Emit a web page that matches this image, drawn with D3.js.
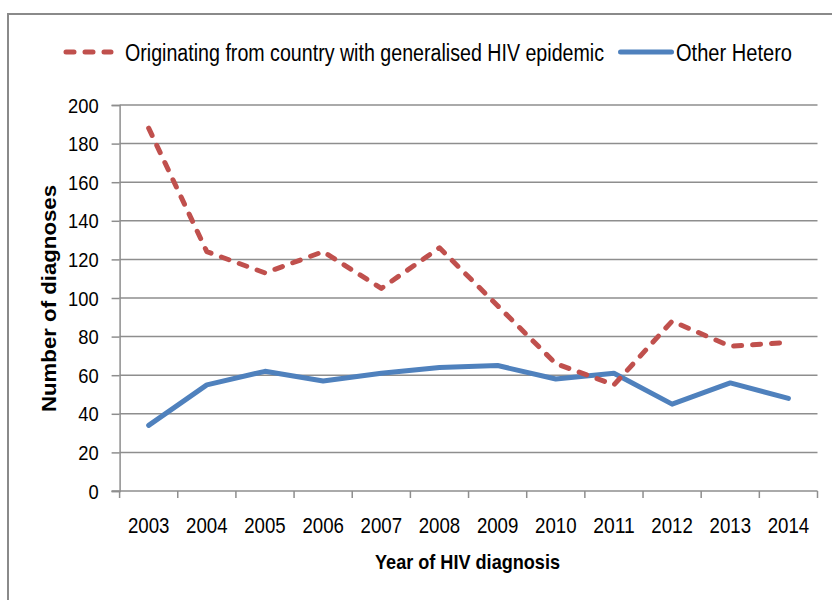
<!DOCTYPE html>
<html>
<head>
<meta charset="utf-8">
<script src="https://cdn.jsdelivr.net/npm/d3@7"></script>
<style>
  html, body { margin: 0; padding: 0; background: #fff; }
  svg { display: block; }
  text { font-family: "Liberation Sans", Arial, sans-serif; fill: #000; }
</style>
</head>
<body>
<svg id="chart" width="832" height="600"></svg>
<script>
// ---- data ----
const years = ["2003","2004","2005","2006","2007","2008","2009","2010","2011","2012","2013","2014"];
const generalised = [188, 124, 113, 124, 105, 126, 96, 66, 55, 88, 75, 77];
const otherHetero = [34, 55, 62, 57, 61, 64, 65, 58, 61, 45, 56, 48];
const yTicks = [0, 20, 40, 60, 80, 100, 120, 140, 160, 180, 200];
const seriesNames = ["Originating from country with generalised HIV epidemic", "Other Hetero"];

(function () {
const svg = d3.select("#chart");
const gridColor = "#8e8e8e";
const red = "#C0504D", blue = "#4F81BD";
const fam = '"Liberation Sans", Arial, sans-serif';

// frame
svg.append("rect").attr("x", 8).attr("y", 14).attr("width", 840).attr("height", 610)
  .attr("fill", "none").attr("stroke", "#8a8a8a").attr("stroke-width", 2);

const pLeft = 119.6, pRight = 817.5, pTop = 105, pBottom = 491;
const x = d3.scaleBand().domain(years).range([pLeft, pRight]).paddingInner(0).paddingOuter(0);
const y = d3.scaleLinear().domain([0, 200]).range([pBottom, pTop]);

// gridlines
svg.append("g").selectAll("line").data(yTicks.filter(d => d > 0)).join("line")
  .attr("x1", pLeft).attr("x2", pRight)
  .attr("y1", d => y(d)).attr("y2", d => y(d))
  .attr("stroke", gridColor).attr("stroke-width", 1.5);

// y axis
const yAxis = svg.append("g").attr("transform", `translate(${pLeft},0)`)
  .call(d3.axisLeft(y).tickValues(yTicks).tickSize(8).tickPadding(13));
yAxis.select(".domain").attr("stroke", gridColor).attr("stroke-width", 1.5);
yAxis.selectAll(".tick line").attr("stroke", gridColor).attr("stroke-width", 1.5);
yAxis.selectAll(".tick text").attr("font-size", 19.5).attr("dy", "0.36em")
  .style("font-family", fam)
  .attr("textLength", d => String(d).length * 10.2).attr("lengthAdjust", "spacingAndGlyphs");

// x axis
const xAxis = svg.append("g").attr("transform", `translate(0,${pBottom})`)
  .call(d3.axisBottom(x).tickSize(0).tickPadding(0));
xAxis.select(".domain").remove();
svg.append("line").attr("x1", pLeft - 8).attr("x2", pRight).attr("y1", pBottom).attr("y2", pBottom)
  .attr("stroke", gridColor).attr("stroke-width", 1.5);
const bounds = years.map(d => x(d)).concat([pRight]);
svg.append("g").selectAll("line").data(bounds).join("line")
  .attr("x1", d => d).attr("x2", d => d).attr("y1", pBottom).attr("y2", pBottom + 7)
  .attr("stroke", gridColor).attr("stroke-width", 1.5);
xAxis.selectAll(".tick text").attr("font-size", 21.5).attr("dy", 0).attr("y", 41.5)
  .style("font-family", fam)
  .attr("textLength", 41.5).attr("lengthAdjust", "spacingAndGlyphs");

// axis titles
svg.append("text").attr("x", 467.5).attr("y", 569).attr("text-anchor", "middle")
  .attr("font-size", 20.5).attr("font-weight", "bold")
  .attr("textLength", 185).attr("lengthAdjust", "spacingAndGlyphs")
  .text("Year of HIV diagnosis");
svg.append("text").attr("transform", "translate(56,298.5) rotate(-90)").attr("text-anchor", "middle")
  .attr("font-size", 20).attr("font-weight", "bold")
  .attr("textLength", 227).attr("lengthAdjust", "spacingAndGlyphs")
  .text("Number of diagnoses");

// lines
const cx = d => x(d) + x.bandwidth() / 2;
const line = d3.line().x((d, i) => cx(years[i])).y(d => y(d));
svg.append("path").datum(otherHetero).attr("d", line)
  .attr("fill", "none").attr("stroke", blue).attr("stroke-width", 5)
  .attr("stroke-linejoin", "round").attr("stroke-linecap", "round");
svg.append("path").datum(generalised).attr("d", line)
  .attr("fill", "none").attr("stroke", red).attr("stroke-width", 5)
  .attr("stroke-dasharray", "8,11").attr("stroke-linejoin", "round").attr("stroke-linecap", "round");

// legend
const ly = 52;
svg.append("line").attr("x1", 66).attr("x2", 111).attr("y1", ly).attr("y2", ly)
  .attr("stroke", red).attr("stroke-width", 5).attr("stroke-dasharray", "8,11").attr("stroke-linecap", "round");
svg.append("text").attr("x", 125).attr("y", 61).attr("font-size", 23)
  .attr("textLength", 479).attr("lengthAdjust", "spacingAndGlyphs").text(seriesNames[0]);
svg.append("line").attr("x1", 620.5).attr("x2", 671.5).attr("y1", ly).attr("y2", ly)
  .attr("stroke", blue).attr("stroke-width", 5).attr("stroke-linecap", "round");
svg.append("text").attr("x", 676).attr("y", 61).attr("font-size", 23)
  .attr("textLength", 116).attr("lengthAdjust", "spacingAndGlyphs").text(seriesNames[1]);
})();
</script>
</body>
</html>
